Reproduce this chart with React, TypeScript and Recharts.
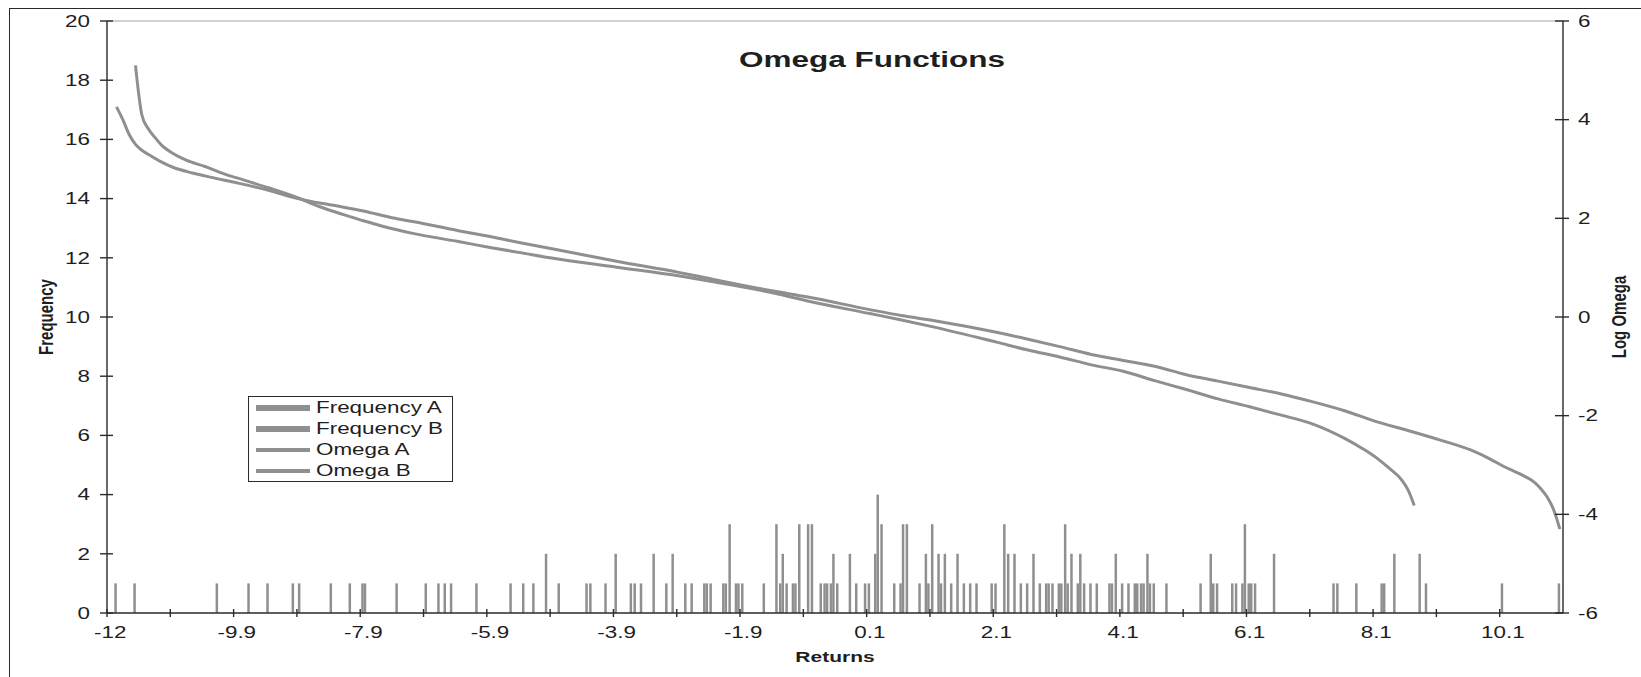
import React from "react";
import { ComposedChart, Bar, Line, XAxis, YAxis, Legend, ReferenceLine } from "recharts";

// Histogram bins: 230 bins of width 0.1, first bin centred on -11.9
const BIN_START = -11.9;
const BIN_STEP = 0.1;
const BIN_COUNT = 230;

// Category tick marks every 10 bins, labels every 20 bins
const TICK_EVERY = 10;
const LABEL_EVERY = 20;
const X_TICK_LABELS = ["-12", "-9.9", "-7.9", "-5.9", "-3.9", "-1.9", "0.1", "2.1", "4.1", "6.1", "8.1", "10.1"];
const FREQ_TICKS = [0, 2, 4, 6, 8, 10, 12, 14, 16, 18, 20];
const LOG_TICKS = [-6, -4, -2, 0, 2, 4, 6];

// [return bin, count]
const FREQUENCY_A: [number, number][] = [
  [-11.8, 1], [-11.5, 1], [-10.2, 1], [-9.7, 1], [-9.4, 1], [-9.0, 1], [-8.9, 1], [-8.4, 1], [-8.1, 1], [-7.9, 1],
  [-6.9, 1], [-6.7, 1], [-6.6, 1], [-6.5, 1], [-6.1, 1], [-5.2, 1], [-5.0, 2], [-4.8, 1], [-4.3, 1], [-3.9, 2],
  [-3.6, 1], [-3.5, 1], [-3.3, 2], [-3.1, 1], [-3.0, 2], [-2.8, 1], [-2.7, 1], [-2.5, 1], [-2.4, 1], [-2.2, 1],
  [-2.1, 3], [-2.0, 1], [-1.9, 1], [-1.3, 1], [-1.2, 1], [-1.1, 1], [-1.0, 3], [-0.8, 3], [-0.6, 1], [-0.5, 1],
  [-0.4, 1], [-0.2, 2], [-0.1, 1], [0.1, 1], [0.2, 2], [0.3, 3], [0.5, 1], [0.6, 1], [0.7, 3], [0.9, 1],
  [1.0, 2], [1.1, 3], [1.2, 2], [1.3, 2], [1.4, 1], [1.5, 2], [1.6, 1], [1.7, 1], [1.8, 1], [2.1, 1],
  [2.3, 2], [2.4, 2], [2.5, 1], [2.6, 1], [2.7, 2], [2.8, 1], [2.9, 1], [3.0, 1], [3.1, 1], [3.2, 3],
  [3.3, 2], [3.4, 1], [3.5, 1], [3.6, 1], [3.7, 1], [3.9, 1], [4.0, 2], [4.1, 1], [4.2, 1], [4.3, 1],
  [4.4, 1], [4.5, 2], [4.6, 1], [4.8, 1], [5.5, 2], [5.6, 1], [5.9, 1], [6.0, 1], [6.1, 1], [6.2, 1],
  [6.5, 2], [7.5, 1], [7.8, 1], [8.2, 1], [8.4, 2], [8.8, 2], [8.9, 1], [10.1, 1], [11.0, 1],
];

const FREQUENCY_B: [number, number][] = [
  [-7.9, 1], [-7.4, 1], [-5.6, 1], [-5.4, 1], [-4.4, 1], [-4.1, 1], [-3.7, 1], [-2.5, 1], [-2.2, 1], [-2.0, 1],
  [-1.6, 1], [-1.4, 3], [-1.3, 2], [-1.1, 1], [-0.9, 3], [-0.7, 1], [-0.6, 1], [-0.5, 2], [0.0, 1], [0.2, 4],
  [0.6, 3], [1.0, 1], [1.2, 1], [2.0, 1], [2.2, 3], [2.9, 1], [3.1, 1], [3.2, 1], [3.4, 2], [3.9, 1],
  [4.3, 1], [4.4, 1], [4.5, 1], [5.3, 1], [5.5, 1], [5.8, 1], [6.0, 3], [6.1, 1], [7.4, 1], [8.2, 1],
];

// [return bin, log omega]
const OMEGA_A: [number, number][] = [
  [-11.8, 4.26], [-11.7, 4.0], [-11.6, 3.7], [-11.5, 3.5], [-11.4, 3.38], [-11.3, 3.3], [-11.1, 3.15], [-10.9, 3.03],
  [-10.6, 2.92], [-10.3, 2.83], [-9.9, 2.72], [-9.4, 2.57], [-8.9, 2.39], [-8.4, 2.27], [-7.9, 2.15], [-7.4, 2.0],
  [-7.1, 1.93], [-6.4, 1.75], [-5.9, 1.63], [-5.4, 1.5], [-4.9, 1.38], [-3.9, 1.13], [-2.9, 0.9], [-2.4, 0.77],
  [-1.4, 0.52], [-0.9, 0.41], [0.1, 0.15], [0.6, 0.03], [1.1, -0.07], [2.1, -0.31], [2.6, -0.45], [3.1, -0.6],
  [3.6, -0.76], [4.1, -0.88], [4.6, -1.0], [5.1, -1.17], [5.6, -1.3], [6.1, -1.43], [6.6, -1.56], [7.1, -1.72],
  [7.6, -1.9], [8.1, -2.12], [8.6, -2.3], [9.1, -2.49], [9.6, -2.7], [9.9, -2.88], [10.1, -3.02], [10.4, -3.2],
  [10.6, -3.35], [10.7, -3.48], [10.8, -3.65], [10.9, -3.9], [11.0, -4.3],
];

const OMEGA_B: [number, number][] = [
  [-11.5, 5.1], [-11.4, 4.1], [-11.3, 3.82], [-11.2, 3.65], [-11.1, 3.5], [-10.9, 3.31], [-10.7, 3.18], [-10.4, 3.05],
  [-10.1, 2.9], [-9.9, 2.82], [-9.4, 2.62], [-9.0, 2.45], [-8.6, 2.24], [-8.2, 2.07], [-7.9, 1.95], [-7.6, 1.84],
  [-7.1, 1.69], [-6.4, 1.53], [-5.9, 1.41], [-5.4, 1.3], [-4.9, 1.19], [-3.9, 1.01], [-2.9, 0.83], [-2.4, 0.72],
  [-1.4, 0.48], [-0.9, 0.33], [0.1, 0.07], [0.6, -0.06], [1.1, -0.2], [2.1, -0.51], [2.6, -0.67], [3.1, -0.81],
  [3.6, -0.97], [4.1, -1.1], [4.6, -1.29], [5.1, -1.47], [5.6, -1.66], [6.1, -1.82], [6.6, -1.99], [7.1, -2.17],
  [7.6, -2.46], [7.9, -2.68], [8.1, -2.85], [8.3, -3.06], [8.5, -3.3], [8.6, -3.5], [8.7, -3.82],
];

type Row = { bin: string; freqA?: number; freqB?: number; omegaA?: number; omegaB?: number };

const binIndex = (r: number) => Math.round((r - BIN_START) / BIN_STEP);

const rows: Row[] = Array.from({ length: BIN_COUNT }, (_, i) => ({ bin: (BIN_START + i * BIN_STEP).toFixed(1) }));
FREQUENCY_A.forEach(([r, c]) => { rows[binIndex(r)].freqA = c; });
FREQUENCY_B.forEach(([r, c]) => { rows[binIndex(r)].freqB = c; });
OMEGA_A.forEach(([r, v]) => { rows[binIndex(r)].omegaA = v; });
OMEGA_B.forEach(([r, v]) => { rows[binIndex(r)].omegaB = v; });

// Layout
const W = 1641;
const H = 677;
const LEFT_AXIS_W = 107;
const RIGHT_AXIS_W = 78;
const X_AXIS_H = 64;
const TOP = 21;
const PLOT_W = W - LEFT_AXIS_W - RIGHT_AXIS_W;
const BAND = PLOT_W / BIN_COUNT;

const STRETCH = 1.4; // text is drawn horizontally widened
const FONT = "'Liberation Sans', Arial, Helvetica, sans-serif";
const INK = "#1e1e1e";
const AXIS = "#2a2a2a";
const GRAY = "#8f8f8f";

const LeftTick = (props: any) => {
  const { x, y, payload } = props;
  const axisX = x + 17;
  return (
    <g>
      <line x1={axisX - 7} x2={axisX + 6} y1={y} y2={y} stroke={AXIS} strokeWidth={1.4} />
      <text transform={`translate(${x},${y}) scale(${STRETCH},1)`} textAnchor="end" dy="0.36em"
        fontFamily={FONT} fontSize={16} fill={INK}>{payload.value}</text>
    </g>
  );
};

const RightTick = (props: any) => {
  const { x, y, payload } = props;
  const axisX = x - 15;
  return (
    <g>
      <line x1={axisX - 8} x2={axisX + 6} y1={y} y2={y} stroke={AXIS} strokeWidth={1.4} />
      <text transform={`translate(${x},${y}) scale(${STRETCH},1)`} textAnchor="start" dy="0.36em"
        fontFamily={FONT} fontSize={16} fill={INK}>{payload.value}</text>
    </g>
  );
};

const XTick = (props: any) => {
  const { x, y, index, payload } = props;
  if (index % TICK_EVERY !== 0) return <g />;
  const half = payload && typeof payload.offset === "number" && payload.offset > 0 ? payload.offset : BAND / 2;
  const axisY = y - 14;
  const label = index % LABEL_EVERY === 0 ? X_TICK_LABELS[index / LABEL_EVERY] : null;
  return (
    <g>
      <line x1={x - half} x2={x - half} y1={axisY - 4} y2={axisY + 4} stroke={AXIS} strokeWidth={1.4} />
      {label != null && (
        <text transform={`translate(${x},${y}) scale(${STRETCH},1)`} textAnchor="middle" dy="0.71em"
          fontFamily={FONT} fontSize={16} fill={INK}>{label}</text>
      )}
    </g>
  );
};

const LegendBox = (props: any) => {
  const items = props.payload || [];
  return (
    <div style={{ border: `1.5px solid ${AXIS}`, background: "#fff", width: 205, boxSizing: "border-box", paddingLeft: 7 }}>
      {items.map((it: any) => (
        <div key={it.value} style={{ display: "flex", alignItems: "center", height: 21 }}>
          <div style={{ width: 54, height: it.type === "line" ? 4 : 6, background: GRAY, flex: "none" }} />
          <span style={{
            marginLeft: 6, fontFamily: FONT, fontSize: 16, color: INK, display: "inline-block",
            transform: `scaleX(${STRETCH})`, transformOrigin: "left center", whiteSpace: "nowrap", lineHeight: "21px",
          }}>{it.value}</span>
        </div>
      ))}
    </div>
  );
};

const axisTitle = (text: string, dx: (vb: any) => number, dy: (vb: any) => number, rotate: boolean) =>
  (p: any) => {
    const vb = p.viewBox || { x: 0, y: 0, width: 0, height: 0 };
    const cx = dx(vb);
    const cy = dy(vb);
    return (
      <text transform={`translate(${cx},${cy}) scale(${STRETCH},1)${rotate ? " rotate(-90)" : ""}`}
        textAnchor="middle" dy="0.36em" fontFamily={FONT} fontSize={15} fontWeight="bold" fill={INK}>{text}</text>
    );
  };

export default function App() {
  return (
    <div style={{ position: "absolute", left: 0, top: 0, width: W, height: H, overflow: "hidden", background: "#fff" }}>
      <div style={{ position: "absolute", left: 9, top: 8, width: 2000, height: 1000, borderLeft: `1.5px solid ${AXIS}`, borderTop: `1.5px solid ${AXIS}` }} />
      <div style={{ position: "absolute", left: 0, top: 0 }}>
        <ComposedChart width={W} height={H} data={rows} margin={{ top: TOP, right: 0, bottom: 0, left: 0 }}
          barSize={2.5} barGap={0}>
          <XAxis dataKey="bin" type="category" interval={0} height={X_AXIS_H} tickSize={6} tickMargin={8}
            tickLine={false} axisLine={{ stroke: AXIS, strokeWidth: 1.4 }} tick={(p: any) => <XTick {...p} />}
            label={{ content: axisTitle("Returns", (vb) => vb.x + vb.width / 2, (vb) => vb.y + 44, false) }} />
          <YAxis yAxisId="left" orientation="left" width={LEFT_AXIS_W} domain={[0, 20]} ticks={FREQ_TICKS}
            allowDataOverflow tickSize={6} tickMargin={11} tickLine={false}
            axisLine={{ stroke: AXIS, strokeWidth: 1.4 }} tick={(p: any) => <LeftTick {...p} />}
            label={{ content: axisTitle("Frequency", () => 45, (vb) => vb.y + vb.height / 2, true) }} />
          <YAxis yAxisId="right" orientation="right" width={RIGHT_AXIS_W} domain={[-6, 6]} ticks={LOG_TICKS}
            allowDataOverflow tickSize={6} tickMargin={9} tickLine={false}
            axisLine={{ stroke: AXIS, strokeWidth: 1.4 }} tick={(p: any) => <RightTick {...p} />}
            label={{ content: axisTitle("Log Omega", (vb) => vb.x + 55, (vb) => vb.y + vb.height / 2, true) }} />
          <ReferenceLine yAxisId="left" y={20} stroke="#a3a3a3" strokeWidth={1} />
          <Bar yAxisId="left" dataKey="freqA" name="Frequency A" fill={GRAY} isAnimationActive={false} />
          <Bar yAxisId="left" dataKey="freqB" name="Frequency B" fill={GRAY} isAnimationActive={false} />
          <Line yAxisId="right" dataKey="omegaA" name="Omega A" type="monotone" stroke={GRAY} strokeWidth={3}
            dot={false} connectNulls isAnimationActive={false} />
          <Line yAxisId="right" dataKey="omegaB" name="Omega B" type="monotone" stroke={GRAY} strokeWidth={3}
            dot={false} connectNulls isAnimationActive={false} />
          <Legend layout="horizontal" verticalAlign="middle" align="center" content={(p: any) => <LegendBox {...p} />}
            wrapperStyle={{ left: 248, top: 396, width: 205, height: 87 }} />
        </ComposedChart>
      </div>
      <div style={{
        position: "absolute", left: 872, top: 60, transform: `translate(-50%, -50%) scaleX(${STRETCH})`,
        fontFamily: FONT, fontWeight: "bold", fontSize: 22.5, color: INK, whiteSpace: "nowrap",
      }}>Omega Functions</div>
    </div>
  );
}
